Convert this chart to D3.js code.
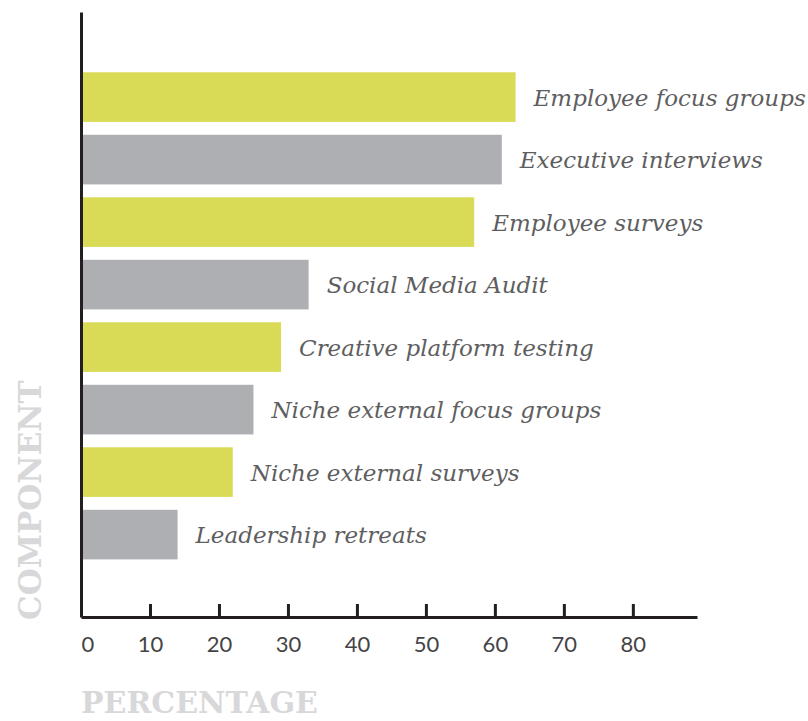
<!DOCTYPE html>
<html>
<head>
<meta charset="utf-8">
<script src="https://cdn.jsdelivr.net/npm/d3@7"></script>
<style>
  html, body { margin: 0; padding: 0; background: #ffffff; }
  svg { display: block; }
</style>
</head>
<body>
<svg id="chart" width="808" height="721"></svg>
<script>
// Share of programmes that include each research component (percent)
const components = [
  "Employee focus groups",
  "Executive interviews",
  "Employee surveys",
  "Social Media Audit",
  "Creative platform testing",
  "Niche external focus groups",
  "Niche external surveys",
  "Leadership retreats"
];
const percentages = [63, 61, 57, 33, 29, 25, 22, 14];
const barColors = ["#d9da56", "#aeafb2"];
const tickValues = [0, 10, 20, 30, 40, 50, 60, 70, 80];
const xTitle = "PERCENTAGE";
const yTitle = "COMPONENT";

const svg = d3.select("#chart");
const axisColor = "#231f20";
const labelColor = "#5e5e60";
const titleColor = "#d8d8da";

const x = d3.scaleLinear().domain([0, 89.3]).range([81, 697]);
const yAxisScale = d3.scaleLinear().domain([0, 1]).range([617, 12]);
const y = d3.scaleBand()
  .domain(components)
  .range([59.4, 572.3])
  .paddingInner(0.206)
  .paddingOuter(0.206);

// bars, alternating yellow / grey
svg.append("g")
  .selectAll("rect")
  .data(components)
  .join("rect")
  .attr("x", x(0))
  .attr("y", d => y(d))
  .attr("width", (d, i) => x(percentages[i]) - x(0))
  .attr("height", y.bandwidth())
  .attr("fill", (d, i) => barColors[i % 2]);

// category labels just past the end of each bar
svg.append("g")
  .selectAll("text")
  .data(components)
  .join("text")
  .attr("x", (d, i) => x(percentages[i]) + 18)
  .attr("y", d => y(d) + y.bandwidth() / 2)
  .attr("dy", "0.38em")
  .attr("fill", labelColor)
  .style("font-family", "'DejaVu Serif', serif")
  .style("font-style", "italic")
  .style("font-size", "23px")
  .text(d => d);

// bottom axis with ticks pointing up into the plot
const xAxis = svg.append("g")
  .attr("transform", `translate(0,${yAxisScale(0)})`)
  .call(d3.axisBottom(x).tickValues(tickValues).tickSizeInner(-13).tickSizeOuter(0).tickPadding(0));
xAxis.select(".domain").attr("stroke", axisColor).attr("stroke-width", 3);
xAxis.selectAll(".tick line").attr("stroke", axisColor).attr("stroke-width", 3);
xAxis.selectAll(".tick text")
  .attr("y", 35)
  .attr("dy", 0)
  .attr("fill", "#444446")
  .attr("text-anchor", d => d === 0 ? "start" : "middle")
  .style("font-family", "Lato, sans-serif")
  .style("font-weight", 400)
  .style("font-size", "22px");

// left axis line only
const yAxis = svg.append("g")
  .attr("transform", `translate(${x(0)},0)`)
  .call(d3.axisLeft(yAxisScale).tickValues([]).tickSizeOuter(0));
yAxis.select(".domain").attr("stroke", axisColor).attr("stroke-width", 3);

// axis titles
svg.append("text")
  .attr("x", x(0))
  .attr("y", 713)
  .attr("fill", titleColor)
  .style("font-family", "'DejaVu Serif', serif")
  .style("font-weight", "bold")
  .style("font-size", "30px")
  .text(xTitle);

svg.append("text")
  .attr("transform", `translate(41,${yAxisScale(0) + 3}) rotate(-90)`)
  .attr("fill", titleColor)
  .style("font-family", "'DejaVu Serif', serif")
  .style("font-weight", "bold")
  .style("font-size", "31px")
  .text(yTitle);
</script>
</body>
</html>
